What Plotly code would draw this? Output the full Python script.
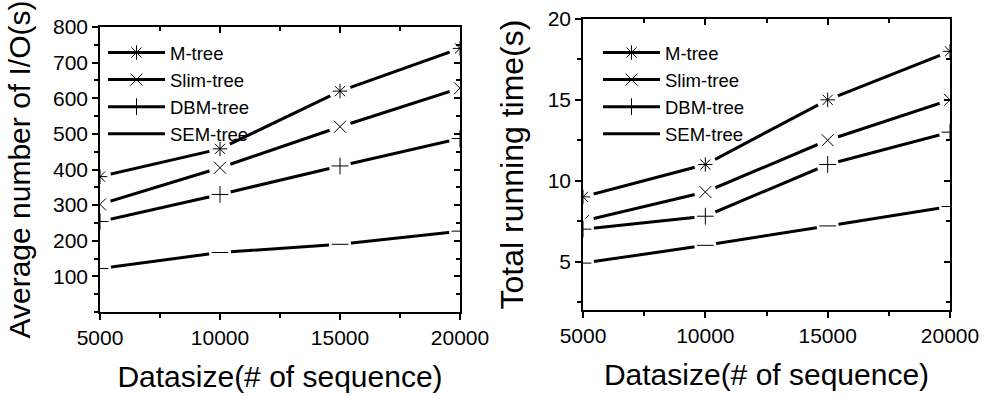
import plotly.graph_objects as go

datasize = [5000, 10000, 15000, 20000]
datasize_labels = ["5000", "10000", "15000", "20000"]
series_names = ["M-tree", "Slim-tree", "DBM-tree", "SEM-tree"]
symbols = ["asterisk-open", "x-thin-open", "cross-thin-open", "line-ew-open"]

io_ticks = [100, 200, 300, 400, 500, 600, 700, 800]
time_ticks = [5, 10, 15, 20]

io_mtree = [380, 458, 620, 740]
io_slim = [302, 405, 520, 628]
io_dbm = [254, 330, 410, 487]
io_sem = [122, 167, 190, 227]

time_mtree = [9.0, 11.0, 15.0, 18.0]
time_slim = [7.5, 9.3, 12.5, 15.0]
time_dbm = [7.0, 7.8, 11.0, 13.0]
time_sem = [4.9, 6.0, 7.2, 8.4]

io_values = [io_mtree, io_slim, io_dbm, io_sem]
time_values = [time_mtree, time_slim, time_dbm, time_sem]

FONT = "Liberation Sans, Arial, sans-serif"
W, H = 984, 396

fig = go.Figure()


def add_series(xa, ya, legend, values):
    for name, sym, ys in zip(series_names, symbols, values):
        fig.add_trace(go.Scatter(
            x=datasize, y=ys, name=name, mode="lines+markers",
            line=dict(color="black", width=3),
            marker=dict(symbol=sym, size=12, color="black",
                        line=dict(color="black", width=1)),
            xaxis=xa, yaxis=ya, legend=legend, showlegend=True,
            hoverinfo="skip"))
        fig.add_trace(go.Scatter(
            x=datasize, y=ys, mode="markers", showlegend=False,
            marker=dict(symbol="circle", size=22, color="white",
                        opacity=1, line=dict(width=0)),
            xaxis=xa, yaxis=ya, hoverinfo="skip"))
        fig.add_trace(go.Scatter(
            x=datasize, y=ys, mode="markers", showlegend=False,
            marker=dict(symbol=sym, size=12, color="black",
                        line=dict(color="black", width=1)),
            xaxis=xa, yaxis=ya, hoverinfo="skip"))


add_series("x", "y", "legend", io_values)
add_series("x2", "y2", "legend2", time_values)

fig.add_trace(go.Scatter(x=datasize, y=io_mtree, mode="lines", opacity=0,
                         showlegend=False, xaxis="x3", yaxis="y3", hoverinfo="skip"))
fig.add_trace(go.Scatter(x=datasize, y=time_mtree, mode="lines", opacity=0,
                         showlegend=False, xaxis="x4", yaxis="y4", hoverinfo="skip"))

L_dom_x = [100 / W, 460 / W]
L_dom_y = [(H - 312) / H, (H - 27) / H]
R_dom_x = [583 / W, 950 / W]
R_dom_y = [(H - 310) / H, (H - 19) / H]

tickfont = dict(family=FONT, size=21, color="black")


def axis_base(rng, tv, tt, mdt, ticks, labels):
    return dict(range=rng, tickvals=tv, ticktext=tt, showticklabels=labels,
                showgrid=False, zeroline=False, showline=True,
                linecolor="black", linewidth=1.5, ticks=ticks, ticklen=6,
                tickwidth=1.5, tickcolor="black",
                minor=dict(dtick=mdt, tick0=0, ticks=ticks, ticklen=4,
                           tickwidth=1.5, tickcolor="black", showgrid=False),
                tickfont=tickfont, fixedrange=True, automargin=False)


def title(text, size, standoff):
    return dict(text=text, font=dict(family=FONT, size=size, color="black"),
                standoff=standoff)


fig.update_layout(
    width=W, height=H, margin=dict(l=0, r=0, t=0, b=0),
    paper_bgcolor="white", plot_bgcolor="white",
    font=dict(family=FONT, color="black"),
    xaxis=dict(domain=L_dom_x, anchor="y",
               **axis_base([5000, 20000], datasize, datasize_labels, 2500, "outside", True),
               title=title("Datasize(# of sequence)", 30, 18)),
    yaxis=dict(domain=L_dom_y, anchor="x",
               **axis_base([0, 800], io_ticks, [str(v) for v in io_ticks], 50, "outside", True),
               title=title("Average number of I/O(s)", 30, 14)),
    xaxis2=dict(domain=R_dom_x, anchor="y2",
                **axis_base([5000, 20000], datasize, datasize_labels, 2500, "outside", True),
                title=title("Datasize(# of sequence)", 30, 18)),
    yaxis2=dict(domain=R_dom_y, anchor="x2",
                **axis_base([2, 20], time_ticks, [str(v) for v in time_ticks], 2.5, "outside", True),
                title=title("Total running time(s)", 32, 14)),
    xaxis3=dict(overlaying="x", side="top", anchor="y3",
                **axis_base([5000, 20000], datasize, datasize_labels, 2500, "inside", False)),
    yaxis3=dict(overlaying="y", side="right", anchor="x3",
                **axis_base([0, 800], io_ticks, [str(v) for v in io_ticks], 50, "inside", False)),
    xaxis4=dict(overlaying="x2", side="top", anchor="y4",
                **axis_base([5000, 20000], datasize, datasize_labels, 2500, "inside", False)),
    yaxis4=dict(overlaying="y2", side="right", anchor="x4",
                **axis_base([2, 20], time_ticks, [str(v) for v in time_ticks], 2.5, "inside", False)),
    legend=dict(x=103 / W, y=(H - 34) / H, xanchor="left", yanchor="top",
                bgcolor="rgba(0,0,0,0)", borderwidth=0, itemwidth=57,
                font=dict(family=FONT, size=18.5, color="black"),
                tracegroupgap=0),
    legend2=dict(x=598 / W, y=(H - 34) / H, xanchor="left", yanchor="top",
                 bgcolor="rgba(0,0,0,0)", borderwidth=0, itemwidth=57,
                 font=dict(family=FONT, size=18.5, color="black"),
                 tracegroupgap=0),
)

fig.write_html("out.html")
